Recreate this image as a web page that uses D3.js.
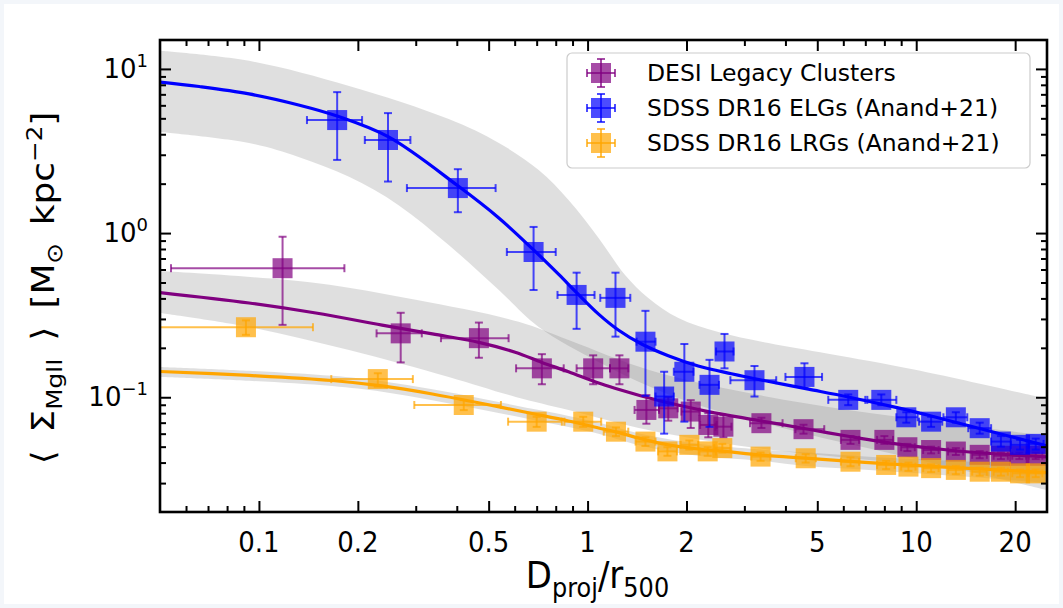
<!DOCTYPE html>
<html><head><meta charset="utf-8">
<script src="https://cdn.jsdelivr.net/npm/d3@7"></script>
<style>body{margin:0;background:#fff}svg{display:block}</style>
</head><body>
<svg id="c" width="1063" height="608"></svg>
<script>
// ---------- data ----------
const seriesNames = ["DESI Legacy Clusters", "SDSS DR16 ELGs (Anand+21)", "SDSS DR16 LRGs (Anand+21)"];

// DESI Legacy Clusters (purple)
const desiX   = [0.118,0.270,0.467,0.726,1.04,1.25,1.51,1.76,2.06,2.33,2.59,3.38,4.54,6.31,8.0,9.4,11.1,13.2,15.6,18.1,20.6,23.1];
const desiY   = [0.611,0.245,0.229,0.150,0.150,0.150,0.0837,0.0856,0.0818,0.0678,0.0662,0.0695,0.0639,0.055,0.055,0.0496,0.0477,0.0467,0.0446,0.044,0.044,0.044];
const desiXlo = [0.054,0.228,0.358,0.606,0.926,1.17,1.39,1.65,1.93,2.20,2.45,3.12,4.29,5.9,7.6,9.0,10.5,12.5,14.8,17.2,19.6,22.0];
const desiXhi = [0.182,0.313,0.575,0.846,1.17,1.33,1.65,1.88,2.19,2.47,2.74,3.92,5.25,6.7,8.5,9.9,11.7,13.9,16.4,19.0,21.6,24.2];
const desiYlo = [0.276,0.163,0.174,0.120,0.120,0.120,0.069,0.072,0.065,0.057,0.057,0.065,0.060,0.052,0.052,0.047,0.0455,0.0445,0.0425,0.042,0.042,0.042];
const desiYhi = [0.95,0.327,0.285,0.183,0.180,0.180,0.103,0.100,0.096,0.080,0.078,0.075,0.068,0.058,0.058,0.052,0.050,0.049,0.047,0.046,0.046,0.046];

// SDSS DR16 ELGs (blue)
const elgX   = [0.173,0.247,0.403,0.685,0.926,1.216,1.50,1.71,1.97,2.35,2.61,3.22,4.57,6.21,7.83,9.33,11.1,13.2,15.6,18.1,20.7,23.1];
const elgY   = [4.88,3.69,1.88,0.767,0.42,0.403,0.218,0.101,0.143,0.119,0.19,0.127,0.133,0.0964,0.0964,0.0755,0.071,0.0755,0.0648,0.0537,0.0513,0.052];
const elgXlo = [0.140,0.210,0.282,0.568,0.81,1.093,1.41,1.61,1.83,2.19,2.46,2.72,4.0,5.4,7.1,8.7,10.2,12.1,14.4,16.9,19.4,22.0];
const elgXhi = [0.206,0.289,0.525,0.80,1.05,1.349,1.61,1.83,2.10,2.51,2.78,3.75,5.17,7.0,8.7,10.1,12.0,14.3,16.9,19.4,22.0,24.4];
const elgYlo = [2.79,2.06,1.34,0.45,0.261,0.234,0.102,0.060,0.071,0.066,0.150,0.101,0.114,0.0895,0.0895,0.070,0.066,0.070,0.060,0.050,0.048,0.048];
const elgYhi = [7.22,5.38,2.45,1.09,0.574,0.574,0.336,0.143,0.211,0.169,0.243,0.155,0.161,0.104,0.104,0.081,0.076,0.081,0.070,0.058,0.055,0.056];

// SDSS DR16 LRGs (orange)
const lrgX   = [0.0913,0.230,0.42,0.70,0.97,1.22,1.50,1.75,2.04,2.32,2.57,3.36,4.61,6.31,8.1,9.47,11.1,13.2,15.6,18.1,20.7,23.1];
const lrgY   = [0.267,0.129,0.0897,0.071,0.071,0.0617,0.0537,0.0468,0.0513,0.0468,0.049,0.0435,0.0425,0.0405,0.0387,0.0378,0.037,0.0361,0.0352,0.0352,0.0344,0.0344];
const lrgXlo = [0.045,0.166,0.297,0.573,0.85,1.12,1.40,1.64,1.92,2.19,2.43,3.15,4.3,5.9,7.6,9.0,10.5,12.5,14.8,17.2,19.6,22.0];
const lrgXhi = [0.146,0.294,0.545,0.835,1.10,1.33,1.61,1.87,2.17,2.46,2.72,3.60,4.95,6.7,8.6,9.95,11.7,13.9,16.4,19.0,21.8,24.2];
const lrgYlo = [0.240,0.116,0.0835,0.066,0.066,0.058,0.0505,0.044,0.048,0.044,0.046,0.041,0.040,0.038,0.0365,0.0356,0.035,0.034,0.0333,0.0333,0.0326,0.0326];
const lrgYhi = [0.294,0.140,0.096,0.076,0.076,0.0655,0.057,0.0496,0.0545,0.0496,0.052,0.046,0.045,0.043,0.041,0.040,0.039,0.0382,0.0372,0.0372,0.0363,0.0363];

// best-fit curves
const elgFitX = [0.05,0.0658,0.0933,0.132,0.173,0.248,0.403,0.537,0.685,0.817,0.926,1.08,1.24,1.46,1.76,2.17,2.74,3.47,4.70,6.21,8.81,11.1,15.8,25];
const elgFitY = [8.32,7.81,7.04,6.03,5.16,3.85,1.94,1.236,0.790,0.560,0.434,0.321,0.257,0.211,0.179,0.155,0.139,0.126,0.112,0.1004,0.0861,0.0769,0.0641,0.0505];
const desiFitX = [0.05,0.0933,0.149,0.237,0.337,0.467,0.602,0.726,0.875,1.08,1.24,1.51,1.76,2.33,3.31,4.70,6.21,8.81,12.5,17.7,25];
const desiFitY = [0.434,0.375,0.326,0.275,0.243,0.216,0.188,0.163,0.143,0.122,0.112,0.100,0.0925,0.0818,0.0722,0.0638,0.0579,0.0518,0.0477,0.0451,0.0433];
const lrgFitX = [0.05,0.0933,0.167,0.237,0.337,0.478,0.678,0.875,1.08,1.22,1.50,1.76,2.17,2.62,3.36,4.70,6.98,11.1,17.7,25];
const lrgFitY = [0.1435,0.1358,0.1265,0.1172,0.1047,0.0916,0.0796,0.0717,0.0650,0.0615,0.0550,0.0513,0.0484,0.0468,0.0445,0.0424,0.0401,0.0379,0.0361,0.0348];

// uncertainty bands
const elgBandUpX = [0.05,0.0933,0.188,0.378,0.537,0.710,0.875,1.08,1.30,1.53,1.89,2.50,3.55,5.40,9.93,25];
const elgBandUpY = [12.9,11.2,7.87,4.95,3.54,2.42,1.59,0.934,0.556,0.403,0.304,0.250,0.214,0.184,0.147,0.0977];
const elgBandLoX = [0.05,0.0933,0.132,0.188,0.266,0.378,0.537,0.710,1.08,1.53,2.17,4.38,8.81,25];
const elgBandLoY = [4.13,3.54,2.91,2.20,1.48,0.846,0.450,0.268,0.164,0.117,0.0897,0.0615,0.0445,0.0272];
const desiBandUpX = [0.05,0.149,0.300,0.617,0.875,1.53,3.09,6.21,12.5,25];
const desiBandUpY = [0.587,0.497,0.392,0.288,0.223,0.147,0.106,0.0837,0.0697,0.058];
const desiBandLoX = [0.05,0.0933,0.188,0.378,0.604,0.875,1.53,3.09,6.21,12.5,25];
const desiBandLoY = [0.326,0.268,0.194,0.133,0.1005,0.0837,0.0632,0.0498,0.0427,0.0376,0.0337];
const lrgBandX  = [0.05,0.0933,0.167,0.237,0.337,0.478,0.678,0.875,1.08,1.50,2.17,3.36,4.70,6.98,11.1,17.7,25];
const lrgBandUp = [0.153,0.145,0.135,0.125,0.112,0.098,0.085,0.077,0.070,0.059,0.052,0.048,0.046,0.0435,0.0415,0.040,0.039];
const lrgBandLo = [0.133,0.126,0.117,0.108,0.096,0.084,0.073,0.066,0.060,0.050,0.044,0.041,0.038,0.0362,0.0340,0.0318,0.0300];

// ticks
const xMajor = [0.1,0.2,0.5,1,2,5,10,20];
const xMajorLabels = ["0.1","0.2","0.5","1","2","5","10","20"];
const xMinor = [0.06,0.07,0.08,0.09,0.3,0.4,0.6,0.7,0.8,0.9,3,4,6,7,8,9];
const yMajor = [0.1,1,10];
const yMajorExp = ["\u22121","0","1"];
const yMinor = [0.03,0.04,0.05,0.06,0.07,0.08,0.09,0.2,0.3,0.4,0.5,0.6,0.7,0.8,0.9,2,3,4,5,6,7,8,9];

// ---------- drawing ----------
const W = 1063, H = 608;
const L = 160, R = 1047, T = 40, B = 512;
const svg = d3.select("#c");
const FONT = "'DejaVu Sans', sans-serif";

svg.append("rect").attr("x",0).attr("y",0).attr("width",W).attr("height",H).attr("fill","#f3f6fa");
svg.append("rect").attr("x",4).attr("y",4).attr("width",W-8).attr("height",H-8).attr("fill","#fff");

const x = d3.scaleLog().domain([0.05,25]).range([L,R]);
const y = d3.scaleLog().domain([0.02,15]).range([B,T]);

svg.append("defs").append("clipPath").attr("id","clip")
  .append("rect").attr("x",L).attr("y",T).attr("width",R-L).attr("height",B-T);
const plot = svg.append("g").attr("clip-path","url(#clip)");

const smooth = d3.line().curve(d3.curveCatmullRom.alpha(0.5));

// bands
function bandPath(ux, uy, lx, ly) {
  const upper = ux.map((v,i)=>[x(v), y(uy[i])]);
  const lower = lx.map((v,i)=>[x(v), y(ly[i])]).reverse();
  return smooth(upper) + "L" + smooth(lower).slice(1) + "Z";
}
[
  [elgBandUpX, elgBandUpY, elgBandLoX, elgBandLoY],
  [desiBandUpX, desiBandUpY, desiBandLoX, desiBandLoY],
  [lrgBandX, lrgBandUp, lrgBandX, lrgBandLo]
].forEach(b=>{
  plot.append("path").attr("d", bandPath(...b))
    .attr("fill","#808080").attr("fill-opacity",0.25).attr("stroke","none");
});

// fit lines
[
  {xs:desiFitX, ys:desiFitY, c:"#800080"},
  {xs:elgFitX, ys:elgFitY, c:"#0000ff"},
  {xs:lrgFitX, ys:lrgFitY, c:"#ffa500"}
].forEach(f=>{
  plot.append("path").attr("d", smooth(f.xs.map((v,i)=>[x(v), y(f.ys[i])])))
    .attr("fill","none").attr("stroke",f.c).attr("stroke-width",3.2);
});

// points with error bars
const MS = 20, CAP = 4, EW = 2, A = 0.7;
function drawSeries(g, xs, ys, xlo, xhi, ylo, yhi, c) {
  xs.forEach((v,i)=>{
    const cx = x(v), cy = y(ys[i]);
    const gg = g.append("g");
    const add = (x1,y1,x2,y2)=>gg.append("line").attr("x1",x1).attr("y1",y1).attr("x2",x2).attr("y2",y2)
      .attr("stroke",c).attr("stroke-opacity",A).attr("stroke-width",EW);
    const xl = x(xlo[i]), xr = x(xhi[i]), yt = y(yhi[i]), yb = y(ylo[i]);
    add(xl,cy,xr,cy);
    add(cx,yt,cx,yb);
    add(xl,cy-CAP,xl,cy+CAP); add(xr,cy-CAP,xr,cy+CAP);
    add(cx-CAP,yt,cx+CAP,yt); add(cx-CAP,yb,cx+CAP,yb);
    gg.append("rect").attr("x",cx-MS/2).attr("y",cy-MS/2).attr("width",MS).attr("height",MS)
      .attr("fill",c).attr("fill-opacity",A);
  });
}
drawSeries(plot, desiX, desiY, desiXlo, desiXhi, desiYlo, desiYhi, "#800080");
drawSeries(plot, elgX, elgY, elgXlo, elgXhi, elgYlo, elgYhi, "#0000ff");
drawSeries(plot, lrgX, lrgY, lrgXlo, lrgXhi, lrgYlo, lrgYhi, "#ffa500");

// axes (ticks inward on all sides)
function axisG(axisFn, scale, vals, size, tr) {
  const a = axisFn(scale).tickValues(vals).tickSize(size).tickFormat("");
  const g = svg.append("g").attr("transform",tr).call(a);
  g.select(".domain").remove();
  g.selectAll(".tick line").attr("stroke","#000").attr("stroke-width",2);
  return g;
}
axisG(d3.axisBottom, x, xMajor, -11, `translate(0,${B})`);
axisG(d3.axisBottom, x, xMinor, -6, `translate(0,${B})`);
axisG(d3.axisTop, x, xMajor, -11, `translate(0,${T})`);
axisG(d3.axisTop, x, xMinor, -6, `translate(0,${T})`);
axisG(d3.axisLeft, y, yMajor, -11, `translate(${L},0)`);
axisG(d3.axisLeft, y, yMinor, -6, `translate(${L},0)`);
axisG(d3.axisRight, y, yMajor, -11, `translate(${R},0)`);
axisG(d3.axisRight, y, yMinor, -6, `translate(${R},0)`);

svg.append("rect").attr("x",L).attr("y",T).attr("width",R-L).attr("height",B-T)
  .attr("fill","none").attr("stroke","#000").attr("stroke-width",2.6);

// tick labels
xMajor.forEach((v,i)=>{
  svg.append("text").attr("transform",`translate(${x(v)},${B+40}) scale(1,1.12)`).attr("text-anchor","middle")
    .attr("font-family",FONT).attr("font-size",26).attr("fill","#000").text(xMajorLabels[i]);
});
yMajor.forEach((v,i)=>{
  const t = svg.append("text").attr("x",L-12).attr("y",y(v)+9).attr("text-anchor","end")
    .attr("font-family",FONT).attr("font-size",26).attr("fill","#000");
  t.append("tspan").text("10");
  t.append("tspan").attr("dy",-11).attr("font-size",18).text(yMajorExp[i]);
});

// axis labels
const xl = svg.append("text").attr("transform",`translate(${(L+R)/2 - 6},588) scale(1,1.08)`).attr("text-anchor","middle")
  .attr("font-family",FONT).attr("font-size",34).attr("fill","#000");
xl.append("tspan").text("D");
xl.append("tspan").attr("dy",8).attr("font-size",24).text("proj");
xl.append("tspan").attr("dy",-8).text("/r");
xl.append("tspan").attr("dy",8).attr("font-size",24).text("500");

const yl = svg.append("text").attr("transform",`translate(54,${(T+B)/2+12}) rotate(-90) scale(1.12,1)`).attr("text-anchor","middle")
  .attr("font-family",FONT).attr("font-size",32).attr("fill","#000");
yl.append("tspan").text("\u27E8\u2002\u03A3");
yl.append("tspan").attr("dy",8).attr("font-size",22).text("MgII");
yl.append("tspan").attr("dy",-8).text("\u2002\u27E9\u2002[M");
yl.append("tspan").attr("dy",8).attr("font-size",22).text("\u2299");
yl.append("tspan").attr("dy",-8).text("\u2002kpc");
yl.append("tspan").attr("dy",-12).attr("font-size",22).text("\u22122");
yl.append("tspan").attr("dy",12).text("]");

// legend
const lg = svg.append("g");
lg.append("rect").attr("x",567).attr("y",53).attr("width",463).attr("height",115).attr("rx",5)
  .attr("fill","#fff").attr("fill-opacity",0.85).attr("stroke","#cccccc").attr("stroke-width",1.2);
const legColors = ["#800080","#0000ff","#ffa500"];
const legY = [73,108,143];
seriesNames.forEach((n,i)=>{
  const cx = 601, cy = legY[i];
  const add = (x1,y1,x2,y2)=>lg.append("line").attr("x1",x1).attr("y1",y1).attr("x2",x2).attr("y2",y2)
    .attr("stroke",legColors[i]).attr("stroke-opacity",A).attr("stroke-width",EW);
  add(cx-14,cy,cx+14,cy); add(cx,cy-14,cx,cy+14);
  add(cx-14,cy-4,cx-14,cy+4); add(cx+14,cy-4,cx+14,cy+4);
  add(cx-4,cy-14,cx+4,cy-14); add(cx-4,cy+14,cx+4,cy+14);
  lg.append("rect").attr("x",cx-10).attr("y",cy-10).attr("width",20).attr("height",20)
    .attr("fill",legColors[i]).attr("fill-opacity",A);
  lg.append("text").attr("x",647).attr("y",cy+8).attr("font-family",FONT).attr("font-size",23.5)
    .attr("fill","#000").text(n);
});
</script>
</body></html>
